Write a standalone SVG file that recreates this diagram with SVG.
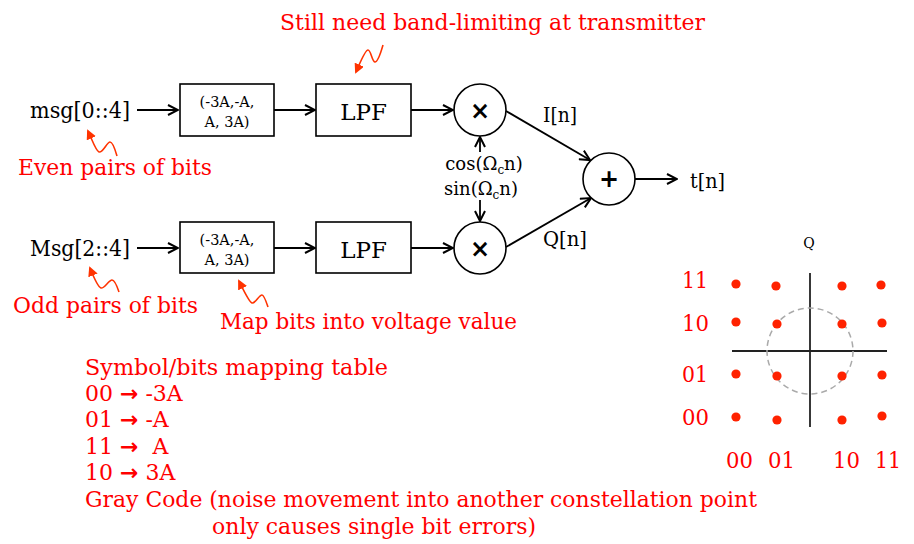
<svg xmlns="http://www.w3.org/2000/svg" width="914" height="544" viewBox="0 0 914 544">
<style>
  .t { font-family: "DejaVu Serif", "Liberation Serif", serif; fill: #000; }
  .r { font-family: "DejaVu Serif", "Liberation Serif", serif; fill: #ff0000; font-size: 22px; }
  .box { fill: #fff; stroke: #000; stroke-width: 1.6; }
  .circ { fill: #fff; stroke: #000; stroke-width: 1.6; }
  .sym { font-family: "DejaVu Sans", sans-serif; font-weight: bold; fill: #000; text-anchor: middle; }
  .con { fill: none; stroke: #000; stroke-width: 1.8; marker-end: url(#ah); }
  .sq { fill: none; stroke: #ff3300; stroke-width: 1.6; marker-end: url(#rh); }
  .dot { fill: #ff2200; }
  .ax { stroke: #222; stroke-width: 1.8; }
  .arr { font-family: "DejaVu Sans", sans-serif; font-weight: bold; }
</style>
<defs>
  <marker id="ah" viewBox="0 0 12 12" refX="11" refY="6" markerWidth="12" markerHeight="12" markerUnits="userSpaceOnUse" orient="auto">
    <path d="M1,1 L11,6 L1,11" fill="none" stroke="#000" stroke-width="2"/>
  </marker>
  <marker id="rh" viewBox="0 0 10 10" refX="8" refY="5" markerWidth="10" markerHeight="10" markerUnits="userSpaceOnUse" orient="auto">
    <path d="M0,0 L10,5 L0,10 z" fill="#ff3300"/>
  </marker>
</defs>

<g id="connectors">
  <line class="con" x1="137" y1="110" x2="178" y2="110"/>
  <line class="con" x1="274" y1="110" x2="315" y2="110"/>
  <line class="con" x1="411" y1="110" x2="453" y2="110"/>
  <line class="con" x1="137" y1="248" x2="178" y2="248"/>
  <line class="con" x1="274" y1="248" x2="315" y2="248"/>
  <line class="con" x1="411" y1="248" x2="453" y2="248"/>
  <line class="con" x1="506" y1="111" x2="590" y2="160"/>
  <line class="con" x1="506" y1="247" x2="591" y2="198"/>
  <line class="con" x1="635" y1="179" x2="677" y2="179"/>
  <line class="con" x1="480" y1="152" x2="480" y2="137"/>
  <line class="con" x1="480" y1="200" x2="480" y2="221"/>
</g>

<g id="squiggles">
  <path class="sq" d="M383,45 C381,52 378,62 375,62 C372,62 371,50 368,50 C365,50 360,63 356,72"/>
  <path class="sq" d="M117,156 C115,149 112,142 110,142 C107,142 103,153 99,152 C96,151 93,142 88,131"/>
  <path class="sq" d="M119,292 C117,286 114,280 112,280 C109,280 104,289 101,288 C98,287 94,278 90,268"/>
  <path class="sq" d="M268,307 C266,301 264,295 262,295 C259,295 255,304 252,303 C249,302 244,291 239,281"/>
</g>

<g id="msg0">
  <text class="t" x="30" y="118" font-size="22" textLength="100" lengthAdjust="spacingAndGlyphs">msg[0::4]</text>
</g>
<g id="msg2">
  <text class="t" x="30" y="256" font-size="22" textLength="100" lengthAdjust="spacingAndGlyphs">Msg[2::4]</text>
</g>

<g id="map1">
  <rect class="box" x="180" y="84" width="94" height="52"/>
  <text class="t" x="227" y="107" font-size="14.5" text-anchor="middle">(-3A,-A,</text>
  <text class="t" x="227" y="127" font-size="14.5" text-anchor="middle">A, 3A)</text>
</g>
<g id="lpf1">
  <rect class="box" x="316" y="84" width="95" height="52"/>
  <text class="t" x="363.5" y="120" font-size="23" text-anchor="middle">LPF</text>
</g>
<g id="mult1">
  <circle class="circ" cx="480" cy="110" r="26"/>
  <text class="sym" x="480" y="119" font-size="24">×</text>
</g>

<g id="map2">
  <rect class="box" x="180" y="222" width="94" height="51"/>
  <text class="t" x="227" y="245" font-size="14.5" text-anchor="middle">(-3A,-A,</text>
  <text class="t" x="227" y="265" font-size="14.5" text-anchor="middle">A, 3A)</text>
</g>
<g id="lpf2">
  <rect class="box" x="316" y="222" width="95" height="51"/>
  <text class="t" x="363.5" y="258" font-size="23" text-anchor="middle">LPF</text>
</g>
<g id="mult2">
  <circle class="circ" cx="480" cy="248" r="26"/>
  <text class="sym" x="480" y="257" font-size="24">×</text>
</g>

<g id="sum">
  <circle class="circ" cx="609" cy="179" r="26"/>
  <text class="sym" x="609" y="187" font-size="24">+</text>
</g>

<g id="labels">
  <text class="t" x="484" y="170" font-size="18" text-anchor="middle">cos(Ω<tspan font-size="12" dy="4">c</tspan><tspan dy="-4">n)</tspan></text>
  <text class="t" x="481" y="195" font-size="18" text-anchor="middle">sin(Ω<tspan font-size="12" dy="4">c</tspan><tspan dy="-4">n)</tspan></text>
  <text class="t" x="543" y="122" font-size="20" textLength="34" lengthAdjust="spacingAndGlyphs">I[n]</text>
  <text class="t" x="543" y="246" font-size="20" textLength="44" lengthAdjust="spacingAndGlyphs">Q[n]</text>
  <text class="t" x="690" y="188" font-size="20" textLength="35" lengthAdjust="spacingAndGlyphs">t[n]</text>
</g>

<g id="annotations">
  <text class="r" x="280" y="30" textLength="425" lengthAdjust="spacingAndGlyphs">Still need band-limiting at transmitter</text>
  <text class="r" x="18" y="175" textLength="194" lengthAdjust="spacingAndGlyphs">Even pairs of bits</text>
  <text class="r" x="13" y="313" textLength="185" lengthAdjust="spacingAndGlyphs">Odd pairs of bits</text>
  <text class="r" x="220" y="329" textLength="297" lengthAdjust="spacingAndGlyphs">Map bits into voltage value</text>
</g>

<g id="table">
  <text class="r" x="85" y="375" textLength="303" lengthAdjust="spacingAndGlyphs">Symbol/bits mapping table</text>
  <text class="r" x="85" y="401">00 <tspan class="arr">→</tspan> -3A</text>
  <text class="r" x="85" y="427">01 <tspan class="arr">→</tspan> -A</text>
  <text class="r" x="85" y="454" style="white-space:pre">11 <tspan class="arr">→</tspan>  A</text>
  <text class="r" x="85" y="480">10 <tspan class="arr">→</tspan> 3A</text>
  <text class="r" x="85" y="507" textLength="672" lengthAdjust="spacingAndGlyphs">Gray Code (noise movement into another constellation point</text>
  <text class="r" x="212" y="534" textLength="324" lengthAdjust="spacingAndGlyphs">only causes single bit errors)</text>
</g>

<g id="constellation">
  <text class="t" x="809" y="248" font-size="14" text-anchor="middle">Q</text>
  <line class="ax" x1="810" y1="273" x2="810" y2="427"/>
  <line class="ax" x1="732" y1="351" x2="887" y2="351"/>
  <circle cx="810" cy="351" r="43" fill="none" stroke="#aaa" stroke-width="1.5" stroke-dasharray="6,4"/>
  <circle class="dot" cx="736" cy="284" r="4.6"/>
  <circle class="dot" cx="776" cy="286" r="4.6"/>
  <circle class="dot" cx="842" cy="286" r="4.6"/>
  <circle class="dot" cx="881" cy="285" r="4.6"/>
  <circle class="dot" cx="736" cy="322" r="4.6"/>
  <circle class="dot" cx="777" cy="324" r="4.6"/>
  <circle class="dot" cx="842" cy="324" r="4.6"/>
  <circle class="dot" cx="882" cy="323" r="4.6"/>
  <circle class="dot" cx="736" cy="374" r="4.6"/>
  <circle class="dot" cx="777" cy="376" r="4.6"/>
  <circle class="dot" cx="842" cy="376" r="4.6"/>
  <circle class="dot" cx="882" cy="375" r="4.6"/>
  <circle class="dot" cx="736" cy="417" r="4.6"/>
  <circle class="dot" cx="777" cy="420" r="4.6"/>
  <circle class="dot" cx="842" cy="420" r="4.6"/>
  <circle class="dot" cx="882" cy="416" r="4.6"/>
  <text class="r" x="682" y="288" textLength="26" lengthAdjust="spacingAndGlyphs">11</text>
  <text class="r" x="682" y="331" textLength="27" lengthAdjust="spacingAndGlyphs">10</text>
  <text class="r" x="682" y="382" textLength="26" lengthAdjust="spacingAndGlyphs">01</text>
  <text class="r" x="682" y="425" textLength="27" lengthAdjust="spacingAndGlyphs">00</text>
  <text class="r" x="726" y="468" textLength="27" lengthAdjust="spacingAndGlyphs">00</text>
  <text class="r" x="768" y="468" textLength="27" lengthAdjust="spacingAndGlyphs">01</text>
  <text class="r" x="833" y="468" textLength="27" lengthAdjust="spacingAndGlyphs">10</text>
  <text class="r" x="875" y="468" textLength="26" lengthAdjust="spacingAndGlyphs">11</text>
</g>
</svg>
